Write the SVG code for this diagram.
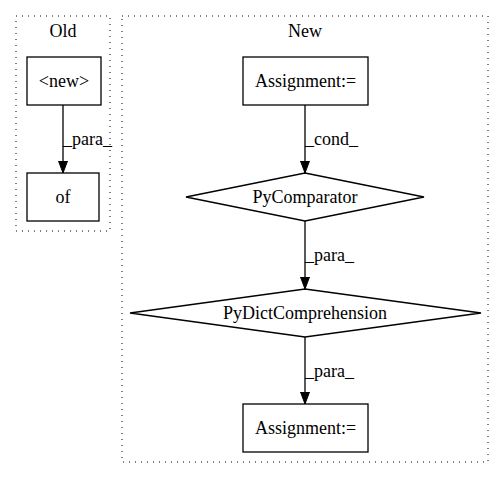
<svg xmlns="http://www.w3.org/2000/svg" width="504" height="480" viewBox="0 0 504 480">
<style>
text{font-family:"Liberation Serif","Times New Roman",serif;font-size:18px;fill:#000}
.c{text-anchor:middle}
.cl{fill:none;stroke:#000;stroke-width:1;stroke-dasharray:1,5}
.n{fill:none;stroke:#000;stroke-width:1.3}
.e{fill:none;stroke:#000;stroke-width:1.3}
</style>
<defs>
<marker id="ah" viewBox="0 0 12 12" refX="12" refY="6" markerWidth="12" markerHeight="12" markerUnits="userSpaceOnUse" orient="auto">
<path d="M0,1.5 L12,6 L0,10.5 Z" fill="#000" stroke="#000"/>
</marker>
</defs>
<rect width="504" height="480" fill="#fff"/>
<g id="cluster_old">
<rect class="cl" x="16" y="16" width="94" height="215"/>
<text class="c" x="63" y="37" font-family="Liberation Serif, serif">Old</text>
</g>
<g id="cluster_new">
<rect class="cl" x="122" y="16" width="366" height="446"/>
<text class="c" x="305" y="37" font-family="Liberation Serif, serif">New</text>
</g>
<g id="n_new">
<rect class="n" x="27" y="57" width="74" height="48"/>
<text class="c" x="64" y="87" font-family="Liberation Serif, serif">&lt;new&gt;</text>
</g>
<g id="n_of">
<rect class="n" x="27" y="173" width="72" height="48"/>
<text class="c" x="63" y="203" font-family="Liberation Serif, serif">of</text>
</g>
<g id="n_assign1">
<rect class="n" x="243" y="57" width="125" height="48"/>
<text class="c" x="305.5" y="87" font-family="Liberation Serif, serif">Assignment:=</text>
</g>
<g id="n_pycomp">
<polygon class="n" points="305,173 424,197 305,221 186,197"/>
<text class="c" x="305" y="203" font-family="Liberation Serif, serif">PyComparator</text>
</g>
<g id="n_pydict">
<polygon class="n" points="305,289 481,313 305,337 130,313"/>
<text class="c" x="305" y="319" font-family="Liberation Serif, serif">PyDictComprehension</text>
</g>
<g id="n_assign2">
<rect class="n" x="243" y="404" width="125" height="48"/>
<text class="c" x="305.5" y="434" font-family="Liberation Serif, serif">Assignment:=</text>
</g>
<g id="edges">
<line class="e" x1="63" y1="105" x2="63" y2="173" marker-end="url(#ah)"/>
<text x="63" y="145" font-family="Liberation Serif, serif">_para_</text>
<line class="e" x1="305" y1="105" x2="305" y2="173" marker-end="url(#ah)"/>
<text x="305" y="145" font-family="Liberation Serif, serif">_cond_</text>
<line class="e" x1="305" y1="221" x2="305" y2="289" marker-end="url(#ah)"/>
<text x="305" y="261" font-family="Liberation Serif, serif">_para_</text>
<line class="e" x1="305" y1="337" x2="305" y2="404" marker-end="url(#ah)"/>
<text x="305" y="377" font-family="Liberation Serif, serif">_para_</text>
</g>
</svg>
